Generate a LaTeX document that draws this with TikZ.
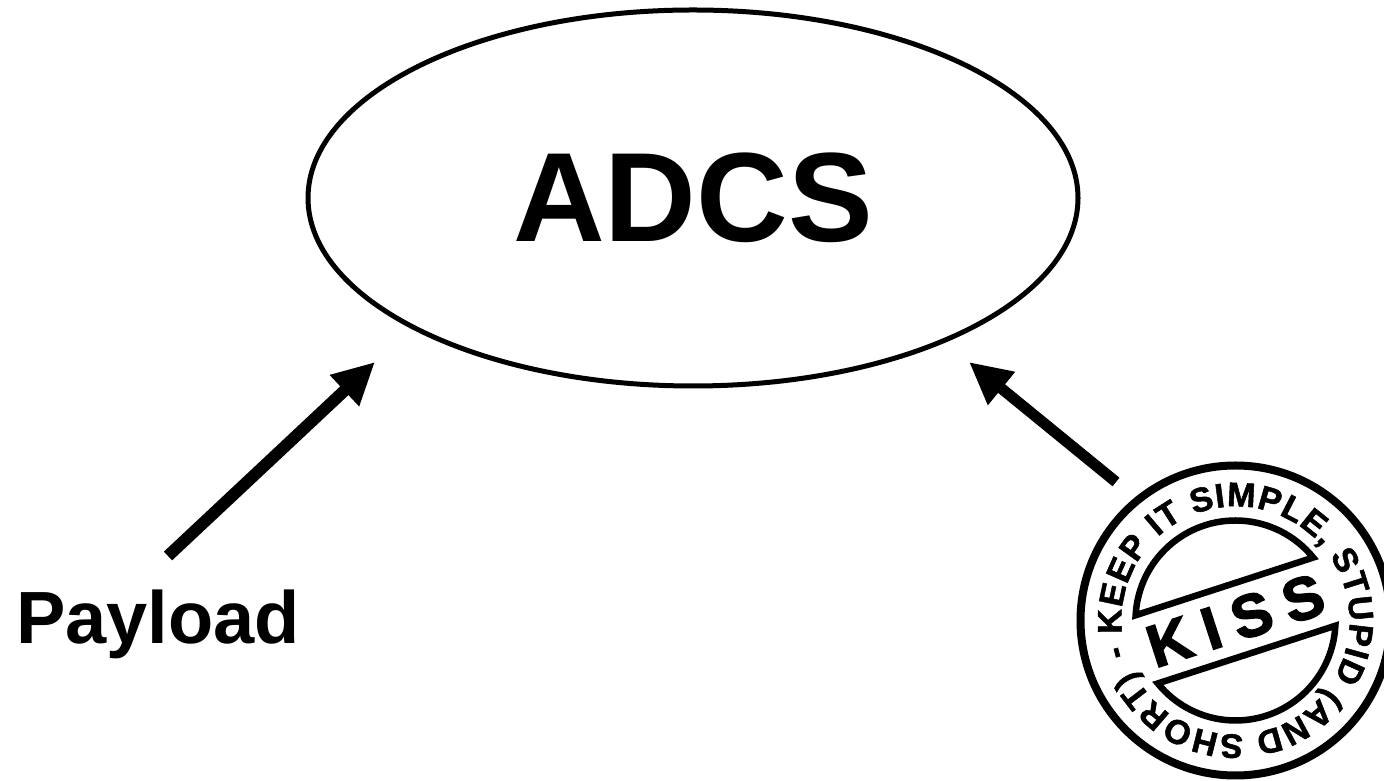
\documentclass[tikz,border=0pt]{standalone}
\usepackage{fontspec}
\setmainfont{Liberation Sans}
\newfontfamily\stampfont[FakeBold=1.5]{Liberation Sans Bold}
\newfontfamily\kissfont[FakeBold=2.5]{Liberation Sans Bold}
\usetikzlibrary{arrows.meta,shapes.geometric,decorations.text}
\tikzset{arrow/.style={line width=12pt, -{Triangle[length=42pt,width=40pt]}}}
\tikzset{ring/.style={line width=8pt}}
\tikzset{segment/.style={line width=6.5pt, line join=miter}}
\begin{document}
\begin{tikzpicture}[x=1pt,y=1pt,main/.style={draw, ellipse, line width=5pt, inner sep=0pt, minimum width=770pt, minimum height=376pt}]
    \useasboundingbox (0,0) rectangle (1384,781);
    \node[main, font=\fontsize{127}{127}\selectfont\bfseries] (adcs) at (693,583) {ADCS};
    \node[font=\fontsize{74}{74}\selectfont\bfseries] (payload) at (158,157) {Payload};
    \coordinate (kiss) at (1235.5,160.5);
    \coordinate (p0) at (168,225);
    \coordinate (p1) at (375,419);
    \coordinate (k0) at (1116,299);
    \coordinate (k1) at (969,419);

    \draw[arrow] (p0) -- (p1);
    \draw[arrow, line width=11pt] (k0) -- (k1);

    \begin{scope}[shift={(kiss)}]
        \draw[ring] (0,0) circle (155);
        \draw[segment] (177:100) arc (177:39:100) -- cycle;
        \draw[segment] (-3:100) arc (-3:-141:100) -- cycle;
        \path[decorate, decoration={text along path, text align=fit to path, text={|\fontsize{34}{34}\stampfont|- KEEP IT SIMPLE, STUPID (AND SHORT)}}] (198:114) arc (198:-154:114);
        \node[rotate=18, font=\fontsize{60}{60}\kissfont] (kisstext) at (0,0) {K\hspace{14pt}I\hspace{14pt}S\hspace{14pt}S};
    \end{scope}
\end{tikzpicture}
\end{document}
